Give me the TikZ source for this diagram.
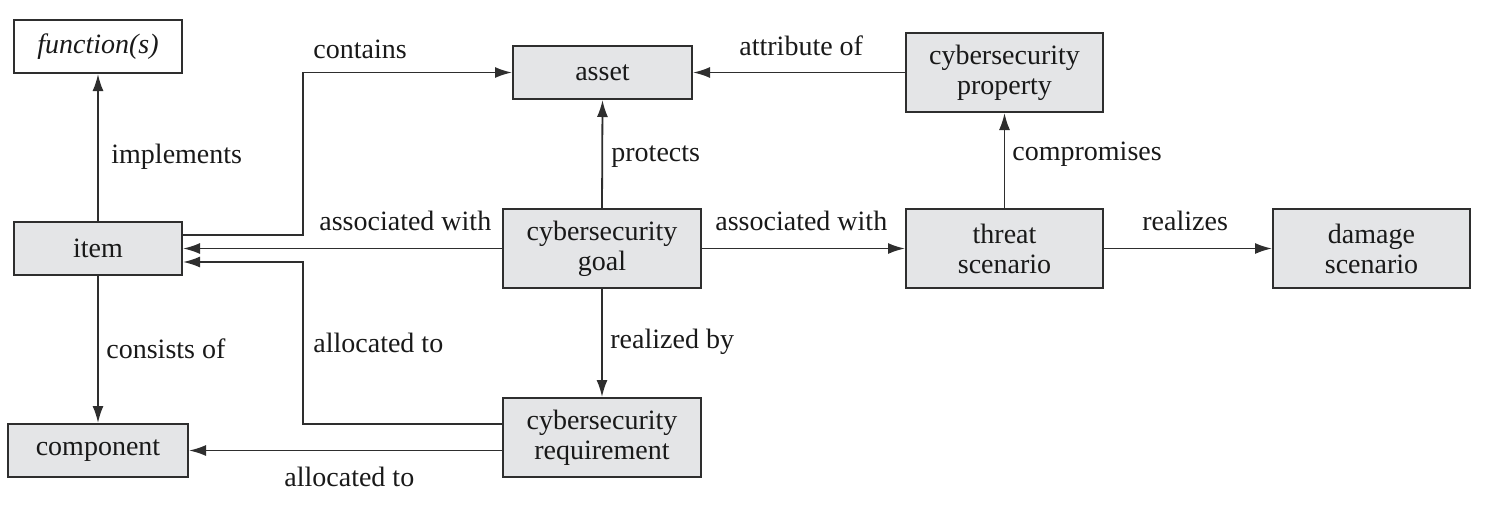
\documentclass[tikz,border=0pt]{standalone}
\usepackage{fontspec}
\setmainfont{Liberation Serif}
\usetikzlibrary{arrows.meta}
\definecolor{boxgray}{HTML}{E4E5E7}
\definecolor{linegray}{HTML}{2E2E2E}
\newcommand{\fs}{\fontsize{14}{15}\selectfont}
\begin{document}
\begin{tikzpicture}[x=0.5pt,y=-0.5pt,
  box/.style={draw=linegray, line width=1pt, fill=boxgray, inner sep=0pt, align=center, font=\fs, text=black!90},
  lbl/.style={font=\fs, inner sep=0pt, anchor=base west, text=black!90},
  arr/.style={draw=linegray, line width=0.9pt, -{Latex[length=8.5pt,width=5.5pt]}}]
\useasboundingbox (0,0) rectangle (1486,510);
% boxes
\node[box, fill=white, minimum width=84pt, minimum height=26.5pt] (func) at (98,46.5) {\textit{function(s)}};
\node[box, minimum width=84pt, minimum height=26.5pt] (item) at (98,248.5) {item};
\node[box, minimum width=90pt, minimum height=26.5pt] (comp) at (98,450.5) {component};
\node[box, minimum width=89.5pt, minimum height=26.5pt] (asset) at (602.5,72.5) {asset};
\node[box, minimum width=99pt, minimum height=39.5pt] (goal) at (602,248.5) {cybersecurity\\goal};
\node[box, minimum width=99pt, minimum height=39.5pt] (req) at (602,437.5) {cybersecurity\\requirement};
\node[box, minimum width=98.5pt, minimum height=39.5pt] (prop) at (1004.5,72.5) {cybersecurity\\property};
\node[box, minimum width=98.5pt, minimum height=39.5pt] (threat) at (1004.5,248.5) {threat\\scenario};
\node[box, minimum width=98.5pt, minimum height=39.5pt] (damage) at (1371.5,248.5) {damage\\scenario};
% bend points
\coordinate (kc) at (303,235);
\coordinate (ka) at (303,262);
\coordinate (kb) at (303,424);
% connectors
\draw[arr] (item.north) -- (func.south);
\draw[arr] (item.east |- kc) -- (kc) -- (kc |- asset.west) -- (asset.west);
\draw[arr] (goal.west) -- (item.east);
\draw[arr] (req.west |- kb) -- (kb) -- (ka) -- (item.east |- ka);
\draw[arr] (req.west |- comp.east) -- (comp.east);
\draw[arr] (item.south) -- (comp.north);
\draw[arr] (goal.north) -- (asset.south);
\draw[arr] (goal.south) -- (req.north);
\draw[arr] (goal.east) -- (threat.west);
\draw[arr] (threat.north) -- (prop.south);
\draw[arr] (threat.east) -- (damage.west);
\draw[arr] (prop.west) -- (asset.east);
% labels
\node[lbl] (limpl) at (111,163) {implements};
\node[lbl] (lcont) at (313,58) {contains};
\node[lbl] (lass1) at (319,230) {associated with};
\node[lbl] (lalloc1) at (313,352) {allocated to};
\node[lbl] (lcons) at (106,358) {consists of};
\node[lbl] (lalloc2) at (284,486) {allocated to};
\node[lbl] (lprot) at (611,161) {protects};
\node[lbl] (lreal) at (610,348) {realized by};
\node[lbl] (lass2) at (715,230) {associated with};
\node[lbl] (lcomp) at (1012,160) {compromises};
\node[lbl] (lrealz) at (1142,230) {realizes};
\node[lbl] (lattr) at (739,55) {attribute of};
\end{tikzpicture}
\end{document}
